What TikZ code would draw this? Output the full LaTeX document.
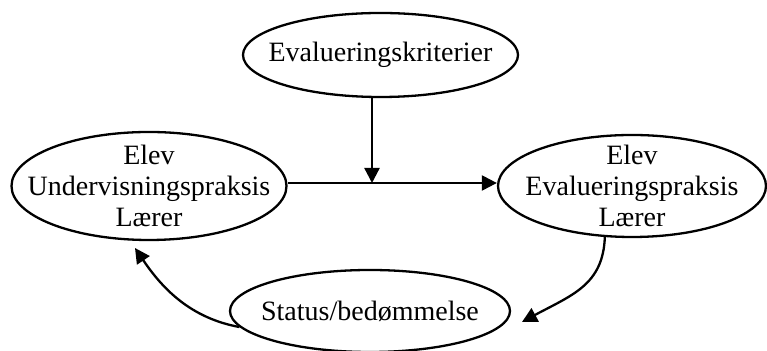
\documentclass[tikz,border=0pt]{standalone}
\usepackage{fontspec}
\setmainfont{Liberation Serif}
\usetikzlibrary{shapes.geometric,arrows.meta}
\begin{document}
\begin{tikzpicture}[x=0.5pt,y=-0.5pt,
  oval/.style={draw, ellipse, line width=1.15pt, inner xsep=-60pt, inner ysep=-30pt,
    font=\fontsize{14}{15.5}\selectfont, align=center},
  conn/.style={line width=1.15pt, -{Triangle[length=7.5pt,width=7.5pt]}}]
\useasboundingbox (0,0) rectangle (767,351);

% the four stations of the cycle
\node[oval, minimum width=137.5pt, minimum height=42pt] (T) at (380.5,55) {Evalueringskriterier};
\node[oval, minimum width=137.5pt, minimum height=54pt] (L) at (149,186) {Elev\\Undervisningspraksis\\Lærer};
\node[oval, minimum width=134pt, minimum height=51pt] (R) at (632,186) {Elev\\Evalueringspraksis\\Lærer};
\node[oval, minimum width=140pt, minimum height=41pt] (B) at (370,311) {Status/bedømmelse};

% junction on the main line and the free ends of the curved arrows
\coordinate (mid) at (372,183);
\coordinate (tipB) at (522,322);
\coordinate (tipL) at (135,248);

% connectors
\draw[conn] (mid -| L.east) -- (mid -| R.west);
\draw[conn] (T.south -| mid) -- (mid);
\draw[conn] (R.242) .. controls (603,285) and (572,295) .. (tipB);
\draw[conn] (B.187) .. controls (190,318) and (162,288) .. (tipL);
\end{tikzpicture}
\end{document}
